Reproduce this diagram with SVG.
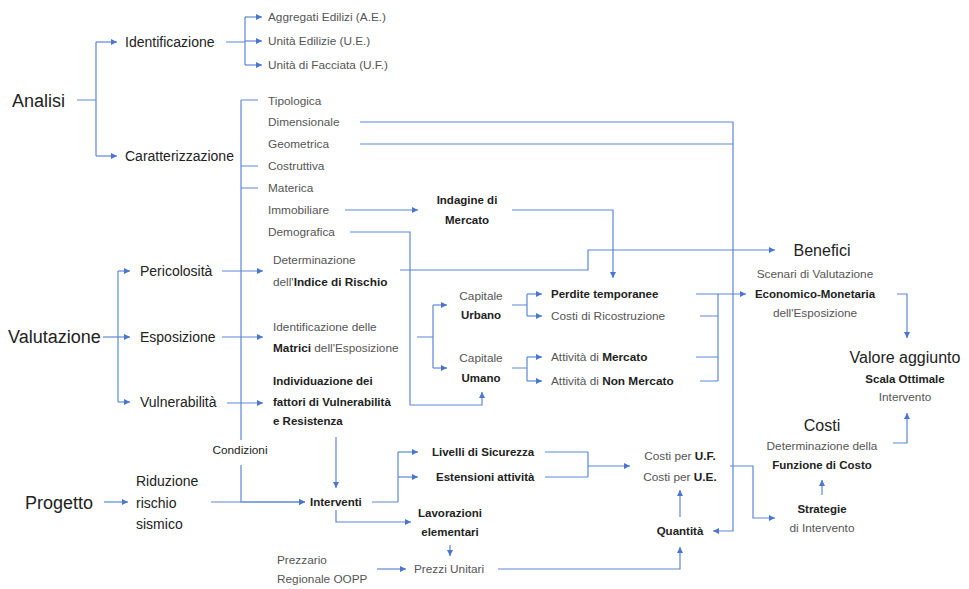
<svg xmlns="http://www.w3.org/2000/svg" width="969" height="589" viewBox="0 0 969 589">
<defs>
<marker id="ah" viewBox="0 0 6 6" refX="6" refY="3" markerWidth="6" markerHeight="6" orient="auto" markerUnits="userSpaceOnUse">
<path d="M0,0 L6,3 L0,6 z" fill="#4a76cf"/>
</marker>
<style>
text{font-family:"Liberation Sans",Arial,sans-serif;}
.h{font-size:18px;fill:#222;}
.h2{font-size:16px;fill:#222;}
.m{font-size:14px;fill:#222;}
.s{font-size:11.8px;fill:#555;}
.b{font-size:11.5px;fill:#222;font-weight:bold;}
.bb{font-weight:bold;fill:#222;}
.c{text-anchor:middle;}
.ln{fill:none;stroke:#5d87d8;stroke-width:1.2;}
.ar{marker-end:url(#ah);}
</style>
</defs>
<rect width="969" height="589" fill="#fff"/>
<g id="connectors">
<path class="ln" d="M77,100 H96 M96,42 V156"/>
<path class="ln ar" d="M96,42 H117"/>
<path class="ln ar" d="M96,156 H117"/>
<path class="ln" d="M226,42 H245 M245,17 V65"/>
<path class="ln ar" d="M245,17 H262"/>
<path class="ln ar" d="M245,41 H262"/>
<path class="ln ar" d="M245,65 H262"/>
<path class="ln" d="M241,100 V440 M241,100 H258 M241,166 H258 M241,188 H258"/>
<path class="ln ar" d="M241,465 V502 H305"/>
<path class="ln ar" d="M211,502 H305"/>
<path class="ln ar" d="M104,502 H128"/>
<path class="ln ar" d="M360,122 H733 V531 H713"/>
<path class="ln" d="M360,144 H733"/>
<path class="ln ar" d="M345,210 H418"/>
<path class="ln ar" d="M512,210 H613 V278"/>
<path class="ln ar" d="M350,232 H410 V405 H482 V392"/>
<path class="ln ar" d="M400,270 H588 V250 H775"/>
<path class="ln ar" d="M103,337 H130"/>
<path class="ln" d="M118,271 V402"/>
<path class="ln ar" d="M118,271 H130"/>
<path class="ln ar" d="M118,402 H130"/>
<path class="ln ar" d="M222,271 H263"/>
<path class="ln ar" d="M222,337 H263"/>
<path class="ln ar" d="M227,403 H263"/>
<path class="ln" d="M417,337 H433 M433,305 V368"/>
<path class="ln ar" d="M433,305 H447"/>
<path class="ln ar" d="M433,368 H447"/>
<path class="ln" d="M512,305 H527 M527,294 V316 M512,368 H527 M527,357 V381"/>
<path class="ln ar" d="M527,294 H542"/>
<path class="ln ar" d="M527,316 H542"/>
<path class="ln ar" d="M527,357 H542"/>
<path class="ln ar" d="M527,381 H542"/>
<path class="ln ar" d="M696,294 H746"/>
<path class="ln" d="M718,294 V381 M700,316 H718 M696,357 H718 M700,381 H718"/>
<path class="ln ar" d="M897,294 H907 V338"/>
<path class="ln ar" d="M893,443 H907 V413"/>
<path class="ln ar" d="M822,495 V480"/>
<path class="ln ar" d="M730,466 H753 V518 H775"/>
<path class="ln ar" d="M680,517 V490"/>
<path class="ln ar" d="M498,569 H680 V547"/>
<path class="ln" d="M545,452 H588 M545,477 H588 M588,452 V477"/>
<path class="ln ar" d="M588,466 H630"/>
<path class="ln" d="M372,502 H398 M398,452 V502"/>
<path class="ln ar" d="M398,452 H418"/>
<path class="ln ar" d="M398,477 H418"/>
<path class="ln ar" d="M336,437 V488"/>
<path class="ln ar" d="M336,510 V522 H411"/>
<path class="ln ar" d="M450,545 V556"/>
<path class="ln ar" d="M377,569 H406"/>
</g>
<g id="analisi"><text class="h" x="12" y="107">Analisi</text></g>
<g id="identificazione"><text class="m" x="125" y="47">Identificazione</text></g>
<g id="caratterizzazione"><text class="m" x="125" y="161">Caratterizzazione</text></g>
<g id="ae"><text class="s" x="268" y="21">Aggregati Edilizi (A.E.)</text></g>
<g id="ue"><text class="s" x="268" y="45">Unità Edilizie (U.E.)</text></g>
<g id="uf"><text class="s" x="268" y="69">Unità di Facciata (U.F.)</text></g>
<g id="tipologica"><text class="s" x="268" y="105">Tipologica</text></g>
<g id="dimensionale"><text class="s" x="268" y="126">Dimensionale</text></g>
<g id="geometrica"><text class="s" x="268" y="148">Geometrica</text></g>
<g id="costruttiva"><text class="s" x="268" y="170">Costruttiva</text></g>
<g id="materica"><text class="s" x="268" y="192">Materica</text></g>
<g id="immobiliare"><text class="s" x="268" y="214">Immobiliare</text></g>
<g id="demografica"><text class="s" x="268" y="236">Demografica</text></g>
<g id="indagine"><text class="b c" x="467" y="204">Indagine di</text><text class="b c" x="467" y="224">Mercato</text></g>
<g id="valutazione"><text class="h" x="8" y="343">Valutazione</text></g>
<g id="pericolosita"><text class="m" x="140" y="276">Pericolosità</text></g>
<g id="esposizione"><text class="m" x="140" y="342">Esposizione</text></g>
<g id="vulnerabilita"><text class="m" x="140" y="407">Vulnerabilità</text></g>
<g id="determinazione"><text class="s" x="273" y="264">Determinazione</text><text class="s" x="273" y="286">dell'<tspan class="bb">Indice di Rischio</tspan></text></g>
<g id="matrici"><text class="s" x="273" y="331">Identificazione delle</text><text class="s" x="273" y="352"><tspan class="bb">Matrici</tspan> dell'Esposizione</text></g>
<g id="individuazione"><text class="b" x="273" y="385">Individuazione dei</text><text class="b" x="273" y="406">fattori di Vulnerabilità</text><text class="b" x="273" y="425">e Resistenza</text></g>
<g id="urbano"><text class="s c" x="481" y="300">Capitale</text><text class="b c" x="481" y="319">Urbano</text></g>
<g id="umano"><text class="s c" x="481" y="362">Capitale</text><text class="b c" x="481" y="382">Umano</text></g>
<g id="perdite"><text class="b" x="551" y="298">Perdite temporanee</text></g>
<g id="ricostruzione"><text class="s" x="551" y="320">Costi di Ricostruzione</text></g>
<g id="mercato"><text class="s" x="551" y="361">Attività di <tspan class="bb">Mercato</tspan></text></g>
<g id="nonmercato"><text class="s" x="551" y="385">Attività di <tspan class="bb">Non Mercato</tspan></text></g>
<g id="benefici"><text class="h2 c" x="822" y="256">Benefici</text><text class="s c" x="815" y="278">Scenari di Valutazione</text><text class="b c" x="815" y="298">Economico-Monetaria</text><text class="s c" x="815" y="317">dell'Esposizione</text></g>
<g id="valore"><text class="h2 c" x="905" y="363">Valore aggiunto</text><text class="b c" x="905" y="383">Scala Ottimale</text><text class="s c" x="905" y="401">Intervento</text></g>
<g id="costi"><text class="h2 c" x="822" y="431">Costi</text><text class="s c" x="822" y="450">Determinazione della</text><text class="b c" x="822" y="469">Funzione di Costo</text></g>
<g id="strategie"><text class="b c" x="822" y="513">Strategie</text><text class="s c" x="822" y="532">di Intervento</text></g>
<g id="costiper"><text class="s c" x="680" y="460">Costi per <tspan class="bb">U.F.</tspan></text><text class="s c" x="680" y="481">Costi per <tspan class="bb">U.E.</tspan></text></g>
<g id="quantita"><text class="b c" x="680" y="535">Quantità</text></g>
<g id="prezzi"><text class="s" x="414" y="573">Prezzi Unitari</text></g>
<g id="prezzario"><text class="s" x="277" y="564">Prezzario</text><text class="s" x="277" y="583">Regionale OOPP</text></g>
<g id="lavorazioni"><text class="b c" x="450" y="517">Lavorazioni</text><text class="b c" x="450" y="536">elementari</text></g>
<g id="livelli"><text class="b" x="432" y="456">Livelli di Sicurezza</text></g>
<g id="estensioni"><text class="b" x="436" y="481">Estensioni attività</text></g>
<g id="interventi"><text class="b" x="310" y="506">Interventi</text></g>
<g id="condizioni"><text class="s c" x="240" y="454" style="fill:#222">Condizioni</text></g>
<g id="progetto"><text class="h" x="25" y="509">Progetto</text></g>
<g id="riduzione"><text class="m" x="136" y="486">Riduzione</text><text class="m" x="136" y="508">rischio</text><text class="m" x="136" y="529">sismico</text></g>
</svg>
